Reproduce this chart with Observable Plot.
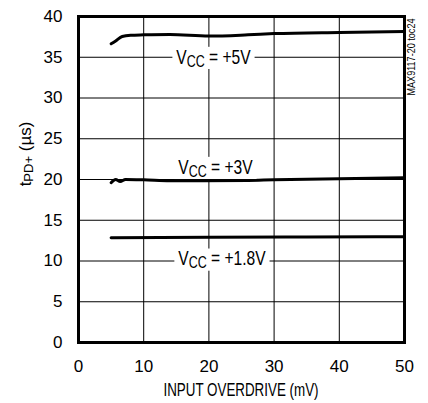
<!DOCTYPE html>
<html><head><meta charset="utf-8">
<script src="https://cdn.jsdelivr.net/npm/d3@7"></script>
<script src="https://cdn.jsdelivr.net/npm/@observablehq/plot@0.6"></script>
<style>
body{margin:0;background:#fff}
svg{font-family:"Liberation Sans",Arial,sans-serif}
</style>
</head><body><div id="chart"></div>
<script>
// Curves
const overdrive5 = [5, 5.7, 6.7, 8, 10, 14, 20, 26, 30, 40, 50];
const tpd5 = [36.65, 37.0, 37.55, 37.7, 37.75, 37.8, 37.6, 37.75, 37.9, 38.05, 38.15];
const overdrive3 = [5, 5.7, 6.4, 7.2, 10, 14, 19, 26, 30, 40, 50];
const tpd3 = [19.6, 20.0, 19.75, 20.0, 19.96, 19.85, 19.84, 19.88, 19.96, 20.08, 20.2];
const overdrive18 = [5, 20, 35, 50];
const tpd18 = [12.85, 12.92, 12.95, 12.97];

// Curve labels (annotation anchors in data units)
const labelMain = ["V", "V", "V"];
const labelSub = ["CC", "CC", "CC"];
const labelRest = [" = +5V", " = +3V", " = +1.8V"];
const labelX = [20.7, 21.0, 22.0];
const labelY = [35, 21.5, 10.25];

// Ticks
const xTicks = [0, 10, 20, 30, 40, 50];
const yTicks = [0, 5, 10, 15, 20, 25, 30, 35, 40];

const series = [
  ...overdrive5.map((x, i) => ({x, y: tpd5[i], s: "5V"})),
  ...overdrive3.map((x, i) => ({x, y: tpd3[i], s: "3V"})),
  ...overdrive18.map((x, i) => ({x, y: tpd18[i], s: "1.8V"}))
];
const labels = labelX.map((x, i) => ({x, y: labelY[i], main: labelMain[i], sub: labelSub[i], rest: labelRest[i]}));

const chart = Plot.plot({
  width: 428, height: 403,
  marginLeft: 78, marginRight: 24, marginTop: 16, marginBottom: 61,
  style: {background: "#fff", color: "#000"},
  x: {domain: [0, 50]},
  y: {domain: [0, 40]},
  marks: [
    Plot.gridX(xTicks, {stroke: "#000", strokeOpacity: 1, strokeWidth: 1}),
    Plot.gridY(yTicks, {stroke: "#000", strokeOpacity: 1, strokeWidth: 1}),
    Plot.line(series, {x: "x", y: "y", z: "s", stroke: "#000", strokeWidth: 3, curve: "monotone-x"}),
    Plot.text(labels, {x: "x", y: "y", text: d => d.main + d.sub + d.rest, fill: "#000", fontSize: 20, className: "curve-label"}),
    Plot.frame({stroke: "#000", strokeWidth: 3}),
    Plot.axisX(xTicks, {tickSize: 0, tickPadding: 17, fontSize: 17, label: null, fill: "#000"}),
    Plot.axisY(yTicks, {tickSize: 0, tickPadding: 16, fontSize: 17, label: null, fill: "#000"})
  ]
});
document.getElementById("chart").append(chart);

const svg = d3.select(chart);
// rebuild curve labels with subscripts, condensed, with white backgrounds
svg.selectAll("g.curve-label text").each(function(_, i) {
  const t = d3.select(this);
  const d = labels[i];
  t.text(null);
  t.append("tspan").text(d.main);
  t.append("tspan").attr("font-size", 16).attr("dy", 3).text(d.sub);
  t.append("tspan").attr("dy", -3).text(d.rest);
  const tr = (t.attr("transform") || "") + " scale(0.78,1)";
  t.attr("transform", tr);
  const bb = this.getBBox();
  d3.select(this.parentNode).insert("rect", () => this)
    .attr("transform", tr)
    .attr("x", bb.x - 5).attr("y", bb.y + 1).attr("width", bb.width + 10).attr("height", bb.height - 2)
    .attr("fill", "#fff");
});

// axis titles
svg.append("text")
  .attr("x", 241).attr("y", 391).attr("text-anchor", "middle").attr("dominant-baseline", "middle")
  .attr("font-size", 19).attr("fill", "#000")
  .attr("textLength", 155).attr("lengthAdjust", "spacingAndGlyphs")
  .text("INPUT OVERDRIVE (mV)");
const yl = svg.append("text")
  .attr("transform", "translate(27,154) rotate(-90)")
  .attr("text-anchor", "middle").attr("dominant-baseline", "middle")
  .attr("font-size", 17).attr("fill", "#000");
yl.append("tspan").text("t");
yl.append("tspan").attr("font-size", 13).attr("dy", 3).text("PD+");
yl.append("tspan").attr("dy", -3).text(" (µs)");

svg.append("text")
  .attr("transform", "translate(412,57) rotate(-90)")
  .attr("text-anchor", "middle").attr("dominant-baseline", "middle")
  .attr("font-size", 10).attr("fill", "#000")
  .attr("textLength", 77).attr("lengthAdjust", "spacingAndGlyphs")
  .text("MAX9117-20 toc24");
</script>
</body></html>
